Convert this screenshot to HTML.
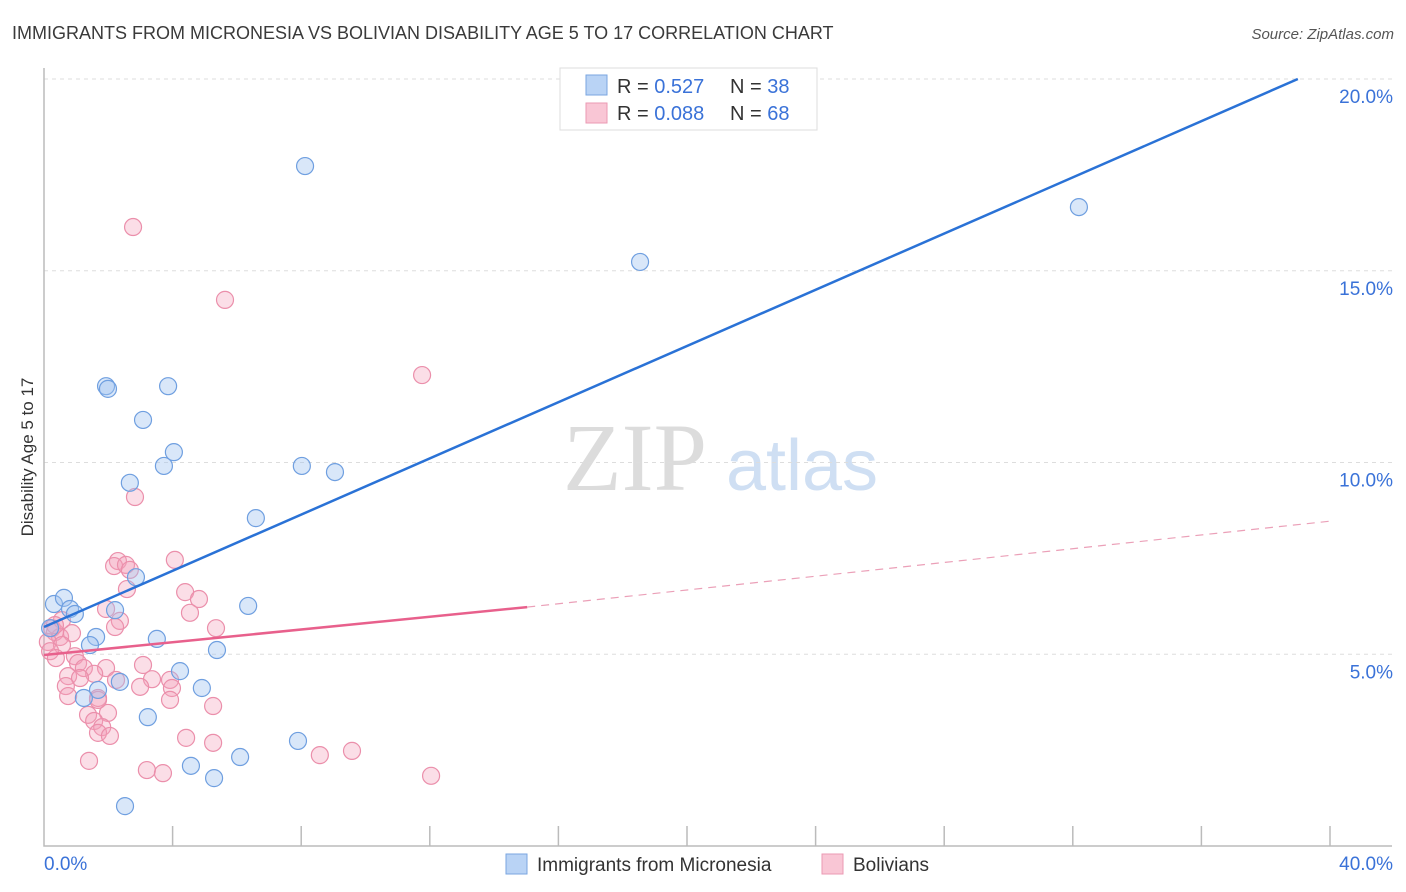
<!DOCTYPE html>
<html><head><meta charset="utf-8">
<style>
body{margin:0;background:#fff;font-family:"Liberation Sans",sans-serif;}
svg{display:block}
</style></head>
<body>
<svg id="chart" width="1406" height="892" xmlns="http://www.w3.org/2000/svg">
<text x="12" y="39" font-size="18" fill="#3a3a3a">IMMIGRANTS FROM MICRONESIA VS BOLIVIAN DISABILITY AGE 5 TO 17 CORRELATION CHART</text>
<text x="1394" y="39" font-size="15" fill="#555" text-anchor="end" font-style="italic">Source: ZipAtlas.com</text>
<text transform="translate(33,457) rotate(-90)" font-size="17" fill="#333" text-anchor="middle">Disability Age 5 to 17</text>
<g>
<text x="635" y="490" font-size="96" fill="#dcdcdc" font-family="Liberation Serif,serif" text-anchor="middle">ZIP</text>
<text x="802" y="490" font-size="72" fill="#cfdff3" text-anchor="middle">atlas</text>
</g>
<g id="grid"></g>
<g id="axes"></g>
<g id="pts"></g>
<g id="lines"></g>
<g>
<rect x="560" y="68" width="257" height="62" fill="#fff" stroke="#ddd"/>
<rect x="586" y="75" width="21" height="20" fill="#b9d3f5" stroke="#7aa6e0"/>
<rect x="586" y="103" width="21" height="20" fill="#f9c6d5" stroke="#eb9ab3"/>
<text x="617" y="93" font-size="20" fill="#333">R = <tspan fill="#3a72d8">0.527</tspan><tspan x="730">N = </tspan><tspan fill="#3a72d8">38</tspan></text>
<text x="617" y="120" font-size="20" fill="#333">R = <tspan fill="#3a72d8">0.088</tspan><tspan x="730">N = </tspan><tspan fill="#3a72d8">68</tspan></text>
</g>
<g>
<rect x="506" y="854" width="21" height="20" fill="#b9d3f5" stroke="#7aa6e0"/>
<text x="537" y="871" font-size="19" fill="#333">Immigrants from Micronesia</text>
<rect x="822" y="854" width="21" height="20" fill="#f9c6d5" stroke="#eb9ab3"/>
<text x="853" y="871" font-size="19" fill="#333">Bolivians</text>
</g>
</svg>
<script>
const xTicks=[0,4,8,12,16,20,24,28,32,36,40];
const yTicks=[5,10,15,20];
const blueX=[8.12,32.19,18.54,1.93,1.99,3.86,3.08,4.04,3.73,8.02,9.05,2.67,6.59,2.86,0.31,0.62,0.81,0.96,2.21,6.35,1.62,3.51,1.43,5.38,4.23,2.36,1.68,1.24,4.91,3.23,7.90,6.10,4.57,5.29,2.52,0.19];
const blueY=[17.73,16.66,15.23,11.99,11.92,11.99,11.11,10.27,9.91,9.91,9.75,9.47,8.55,7.01,6.31,6.47,6.18,6.05,6.15,6.26,5.45,5.40,5.24,5.11,4.56,4.28,4.07,3.86,4.12,3.36,2.74,2.32,2.09,1.77,1.04,5.68];
const pinkX=[2.77,5.63,11.76,2.83,4.07,2.30,2.18,2.55,2.67,4.39,4.82,2.58,1.93,4.54,2.36,2.21,5.35,0.25,0.34,0.50,0.87,0.12,0.56,0.19,0.37,0.96,1.06,1.24,1.93,3.08,0.75,1.56,1.12,2.24,3.36,3.92,2.99,0.68,3.98,0.75,1.68,3.92,5.26,1.99,1.37,1.56,1.81,1.68,2.05,4.42,5.26,9.58,8.58,1.40,3.20,3.70,12.04,1.68,0.56,0.34];
const pinkY=[16.14,14.24,12.28,9.10,7.46,7.43,7.30,7.33,7.20,6.62,6.44,6.70,6.18,6.08,5.87,5.71,5.68,5.68,5.58,5.45,5.55,5.32,5.24,5.08,4.90,4.95,4.77,4.64,4.64,4.72,4.43,4.49,4.38,4.33,4.35,4.33,4.15,4.17,4.12,3.91,3.86,3.81,3.65,3.47,3.42,3.26,3.10,2.95,2.87,2.82,2.69,2.48,2.37,2.22,1.98,1.90,1.83,3.81,5.89,5.76];
const blueTrend=[5.71,20.0]; const blueTrendX=[0,39.0];
const pinkTrend=[4.98,6.23,8.47]; const pinkTrendX=[0,15.03,40];
const X=v=>44+v*(1286/40), Y=v=>846-v*38.35;
const NS="http://www.w3.org/2000/svg";
function mk(p,t,a){const e=document.createElementNS(NS,t);for(const k in a)e.setAttribute(k,a[k]);p.appendChild(e);return e;}
const grid=document.getElementById('grid'),axes=document.getElementById('axes'),pts=document.getElementById('pts'),lines=document.getElementById('lines');
yTicks.forEach(v=>{
 const l=mk(grid,'line',{x1:44,x2:1392,y1:Y(v),y2:Y(v),stroke:'#ddd','stroke-dasharray':'4,4'});
 
 
 const t=mk(axes,'text',{x:1393,y:Y(v)+24,'font-size':19,fill:'#3a72d8','text-anchor':'end'});
 t.textContent=v.toFixed(1)+'%';
 
 
});
const ax=mk(axes,'path',{d:'M44 68 V846 H1392',fill:'none',stroke:'#bbb','stroke-width':1.5});


xTicks.forEach(v=>{ if(v===0)return;
 const l=mk(axes,'line',{x1:X(v),x2:X(v),y1:826,y2:846,stroke:'#bbb','stroke-width':1.5});
 
 
});
[[0,'0.0%',44,'start'],[40,'40.0%',1393,'end']].forEach(a=>{
 const t=mk(axes,'text',{x:a[2],y:870,'font-size':19,fill:'#3a72d8','text-anchor':a[3]});
 t.textContent=a[1];
 
 
});
pinkX.forEach((x,i)=>{
 const c=mk(pts,'circle',{cx:X(x),cy:Y(pinkY[i]),r:8.5,fill:'rgba(244,160,185,0.35)',stroke:'#eb8fab','stroke-width':1.2});
 
 
});
blueX.forEach((x,i)=>{
 const c=mk(pts,'circle',{cx:X(x),cy:Y(blueY[i]),r:8.5,fill:'rgba(160,196,240,0.4)',stroke:'#6f9fe0','stroke-width':1.2});
 
 
});
const bl=mk(lines,'line',{x1:X(blueTrendX[0]),y1:Y(blueTrend[0]),x2:X(blueTrendX[1]),y2:Y(blueTrend[1]),stroke:'#2a72d6','stroke-width':2.5});


const pl=mk(lines,'line',{x1:X(pinkTrendX[0]),y1:Y(pinkTrend[0]),x2:X(pinkTrendX[1]),y2:Y(pinkTrend[1]),stroke:'#e8608c','stroke-width':2.5});


const pd=mk(lines,'line',{x1:X(pinkTrendX[1]),y1:Y(pinkTrend[1]),x2:X(pinkTrendX[2]),y2:Y(pinkTrend[2]),stroke:'#eba0b8','stroke-width':1.2,'stroke-dasharray':'8,6'});


</script>
</body></html>
